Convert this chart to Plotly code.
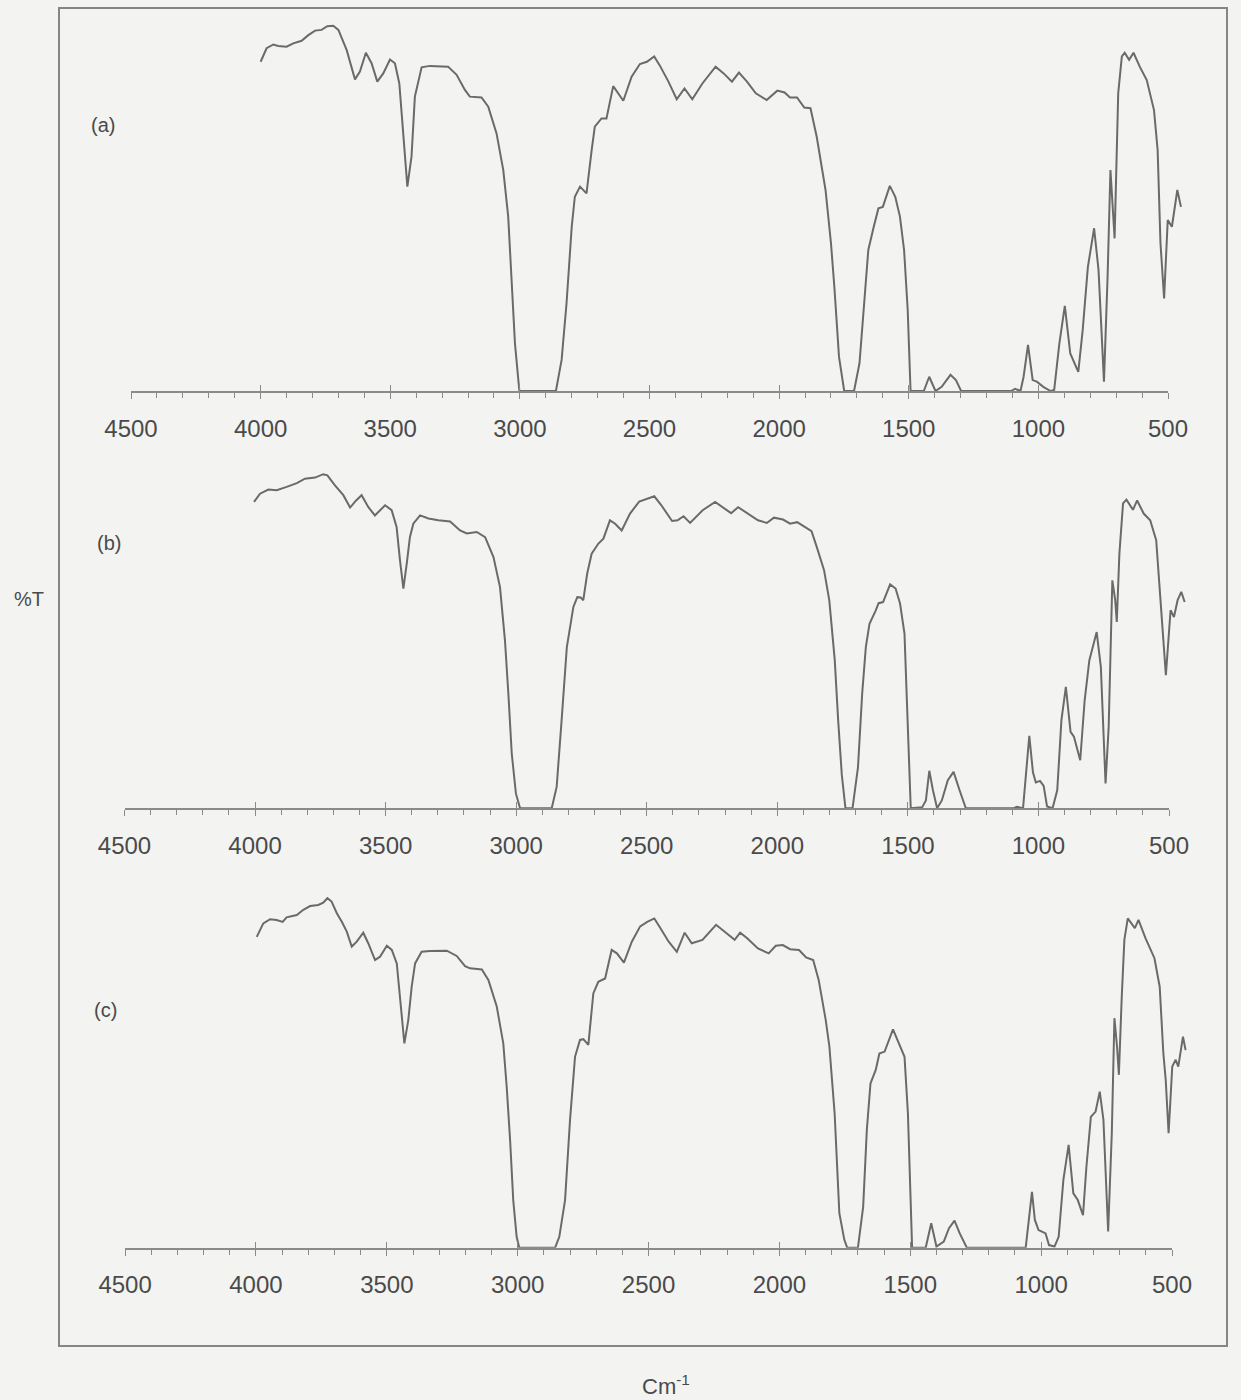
import plotly.graph_objects as go

# ---------------- data (wavenumber cm-1, %T) ----------------
wn_a = [4000, 3977, 3951, 3932, 3900, 3874, 3842, 3816, 3790, 3765, 3743, 3720, 3700, 3668,
        3636, 3617, 3594, 3572, 3550, 3527, 3501, 3482, 3465, 3450, 3434, 3418, 3405, 3379,
        3347, 3277, 3244, 3212, 3193, 3148, 3122, 3090, 3064, 3045, 3032, 3019, 3002, 2861,
        2839, 2820, 2800, 2788, 2768, 2743, 2723, 2711, 2685, 2666, 2640, 2601, 2569, 2537,
        2510, 2482, 2461, 2427, 2395, 2365, 2335, 2296, 2245, 2214, 2182, 2155, 2124, 2090,
        2048, 2007, 1979, 1958, 1931, 1903, 1879, 1855, 1821, 1800, 1787, 1769, 1749, 1711,
        1690, 1672, 1656, 1635, 1617, 1600, 1573, 1552, 1534, 1518, 1504, 1493, 1442, 1421,
        1397, 1373, 1339, 1318, 1298, 1105, 1090, 1069, 1057, 1040, 1022, 1006, 981, 953,
        939, 919, 898, 877, 846, 829, 809, 785, 768, 747, 733, 722, 713, 706, 692, 678, 667,
        650, 633, 609, 582, 554, 540, 529, 515, 501, 485, 464, 450]
t_a = [87.8, 91.4, 92.4, 92.0, 91.8, 92.7, 93.4, 94.9, 96.1, 96.3, 97.3, 97.4, 96.3, 90.9,
       83.1, 85.2, 90.2, 87.4, 82.5, 84.7, 88.4, 87.4, 82.0, 67.8, 54.5, 62.5, 78.5, 86.3,
       86.7, 86.5, 84.3, 80.3, 78.5, 78.3, 75.8, 68.7, 58.9, 46.5, 30.5, 12.7, 0.0, 0.0,
       8.3, 23.4, 43.8, 51.8, 54.5, 52.7, 64.3, 70.5, 72.7, 72.7, 81.3, 77.4, 83.8, 87.2,
       87.8, 89.2, 86.9, 82.5, 77.8, 80.7, 77.8, 82.0, 86.5, 84.7, 82.5, 84.9, 82.5, 79.4,
       77.6, 80.1, 79.6, 78.3, 78.3, 75.6, 75.4, 67.8, 53.6, 39.4, 27.8, 9.1, 0.0, 0.0,
       7.4, 23.4, 37.6, 43.8, 48.7, 49.1, 54.7, 51.8, 46.5, 37.6, 21.6, 0.0, 0.0, 3.8,
       0.0, 1.1, 4.3, 2.9, 0.0, 0.0, 0.6, 0.0, 3.8, 12.3, 2.9, 2.5, 1.1, 0.0,
       0.3, 12.7, 22.7, 10.0, 5.1, 16.3, 33.1, 43.4, 32.3, 2.5, 30.5, 58.9, 49.1, 40.7, 79.4, 89.2, 90.2,
       88.3, 90.2, 86.5, 82.9, 74.9, 64.3, 39.4, 24.7, 45.6, 43.8, 53.6, 49.1]

wn_b = [4004, 3981, 3949, 3917, 3879, 3840, 3809, 3770, 3739, 3723, 3694, 3662, 3636, 3613,
        3592, 3566, 3541, 3521, 3502, 3477, 3458, 3445, 3432, 3419, 3407, 3394, 3368, 3336,
        3298, 3253, 3215, 3189, 3151, 3119, 3087, 3062, 3043, 3030, 3017, 3001, 2985, 2864,
        2845, 2826, 2806, 2781, 2766, 2753, 2743, 2728, 2711, 2685, 2666, 2641, 2621, 2596,
        2564, 2529, 2499, 2471, 2444, 2403, 2382, 2359, 2334, 2286, 2238, 2204, 2177, 2150,
        2115, 2074, 2040, 2013, 1978, 1951, 1924, 1896, 1869, 1849, 1821, 1801, 1780, 1767,
        1753, 1739, 1712, 1691, 1675, 1661, 1647, 1623, 1612, 1595, 1568, 1547, 1530, 1513,
        1500, 1489, 1445, 1431, 1418, 1404, 1388, 1370, 1347, 1325, 1302, 1278, 1096, 1083,
        1059, 1049, 1035, 1021, 1010, 994, 980, 967, 946, 928, 912, 895, 877, 864, 840, 823,
        805, 777, 761, 743, 731, 717, 706, 700, 690, 676, 663, 638, 622, 597, 572, 549, 536,
        522, 512, 494, 481, 467, 453, 440]
t_b = [81.7, 83.9, 85.0, 84.8, 85.7, 86.7, 87.9, 88.2, 89.1, 88.8, 86.1, 83.5, 80.2, 82.1,
       83.5, 80.3, 78.1, 79.5, 80.8, 79.5, 75.0, 66.1, 58.6, 65.3, 72.3, 75.9, 78.1, 77.3,
       76.8, 76.5, 74.1, 73.3, 73.7, 72.3, 67.0, 59.0, 44.8, 30.6, 14.6, 3.9, 0.0, 0.0,
       5.7, 23.5, 43.0, 53.7, 56.3, 56.2, 55.5, 62.6, 67.9, 70.6, 71.9, 76.8, 75.9, 74.1,
       78.6, 81.8, 82.6, 83.2, 80.8, 76.6, 76.8, 77.9, 76.1, 79.5, 81.7, 79.9, 78.7, 80.3,
       78.6, 76.8, 76.1, 77.5, 77.0, 75.9, 76.3, 75.0, 73.9, 69.7, 63.5, 55.5, 39.5, 23.5,
       8.9, 0.0, 0.0, 11.0, 30.6, 43.0, 49.2, 52.8, 54.7, 55.0, 59.7, 58.6, 54.6, 46.6,
       21.7, 0.0, 0.3, 2.1, 10.0, 4.8, 0.0, 2.1, 7.5, 9.7, 4.8, 0.0, 0.0, 0.4,
       0.0, 8.6, 19.3, 9.6, 6.9, 7.3, 6.0, 0.5, 0.0, 4.8, 23.5, 32.4, 20.4, 19.1, 12.8, 28.8,
       39.5, 47.0, 37.7, 6.6, 21.7, 60.8, 55.5, 49.7, 67.9, 81.3, 82.3, 79.6, 82.1, 78.6, 76.8, 71.5, 59.0,
       43.0, 35.5, 52.8, 51.0, 55.5, 57.7, 55.0]

wn_c = [3997, 3972, 3946, 3921, 3898, 3883, 3844, 3819, 3793, 3762, 3743, 3727, 3711, 3691,
        3672, 3653, 3634, 3615, 3590, 3571, 3545, 3526, 3500, 3481, 3462, 3450, 3433, 3418,
        3405, 3392, 3367, 3335, 3271, 3233, 3201, 3182, 3137, 3112, 3080, 3055, 3042, 3029,
        3017, 3004, 2994, 2857, 2841, 2819, 2800, 2781, 2762, 2749, 2730, 2711, 2692, 2666,
        2641, 2621, 2594, 2564, 2532, 2505, 2478, 2458, 2423, 2392, 2362, 2335, 2294, 2242,
        2205, 2171, 2150, 2123, 2082, 2041, 2014, 1987, 1959, 1925, 1898, 1871, 1850, 1823,
        1809, 1789, 1771, 1752, 1741, 1700, 1680, 1666, 1652, 1632, 1618, 1598, 1566, 1543,
        1522, 1509, 1493, 1441, 1420, 1400, 1372, 1352, 1331, 1311, 1284, 1059, 1045, 1035,
        1024, 1010, 997, 983, 970, 949, 933, 915, 895, 877, 860, 840, 827, 810, 792, 776, 762,
        744, 730, 720, 710, 703, 692, 682, 669, 642, 628, 601, 567, 547, 533, 524, 513, 499,
        486, 476, 458, 448]
t_c = [82.9, 86.5, 87.6, 87.4, 86.9, 88.1, 88.7, 90.1, 91.1, 91.4, 92.0, 93.2, 92.3, 89.2,
       86.9, 84.3, 80.3, 81.6, 84.0, 81.2, 76.7, 77.6, 80.5, 79.4, 75.8, 66.9, 54.5, 60.7,
       69.6, 75.8, 78.9, 79.1, 79.2, 77.8, 75.1, 74.5, 74.2, 71.4, 64.3, 54.5, 42.9, 28.7,
       12.7, 2.9, 0.0, 0.0, 2.9, 12.7, 34.1, 50.9, 55.4, 55.6, 54.1, 67.8, 70.9, 71.8,
       79.4, 78.5, 76.0, 81.6, 85.7, 86.9, 87.8, 85.6, 81.6, 78.9, 84.0, 81.2, 82.1, 86.1,
       84.0, 82.1, 84.0, 82.5, 79.8, 78.5, 80.5, 80.7, 79.6, 79.4, 77.4, 76.7, 71.4, 60.7,
       53.6, 35.8, 9.2, 2.1, 0.0, 0.0, 10.9, 31.4, 43.8, 47.4, 51.8, 52.3, 58.2, 54.5,
       50.9, 35.8, 0.0, 0.0, 6.5, 0.3, 1.6, 5.2, 7.2, 3.8, 0.0, 0.0, 9.2, 14.9,
       7.4, 4.7, 4.3, 3.8, 0.7, 0.3, 2.9, 18.1, 27.4, 14.5, 12.7, 8.7, 21.6, 34.9, 36.3, 41.6, 34.1,
       4.3, 30.5, 61.2, 53.6, 46.1, 66.9, 82.1, 87.8, 85.2, 87.4, 82.5, 77.2, 69.6, 51.8, 44.7, 30.5, 48.3,
       50.1, 48.3, 56.3, 52.7]

panel_labels = ["(a)", "(b)", "(c)"]
tick_vals = [4500, 4000, 3500, 3000, 2500, 2000, 1500, 1000, 500]
tick_text = ["4500", "4000", "3500", "3000", "2500", "2000", "1500", "1000", "500"]
y_title = "%T"
x_title = "Cm<sup>-1</sup>"

# ---------------- layout geometry (pixels of the 1241 x 1400 page) ----------------
W, H = 1241, 1400
FONT = "Liberation Sans, Arial, Helvetica, sans-serif"
LINE = "#6a6a6a"
AXC = "#8a8a8a"
TXT = "#4a4a4a"
BG = "#f3f3f1"

# per panel: left px (4500), right px (500), axis y px, panel-label centre
panels = [
    dict(x=wn_a, y=t_a, l=131.0, r=1168.0, axis=391.0, lab=(103, 125)),
    dict(x=wn_b, y=t_b, l=124.5, r=1169.0, axis=808.3, lab=(109, 543)),
    dict(x=wn_c, y=t_c, l=125.1, r=1172.0, axis=1247.7, lab=(105, 1010)),
]
PANEL_H = 375.0  # pixels for 0..100 %T
EXT = 400        # trace axis runs a bit past 500 so the curve tail shows

fig = go.Figure()
layout = {}
for i, p in enumerate(panels):
    k = 3 * i
    xa, xt, xo = k + 1, k + 2, k + 3
    ya = i + 1
    per100 = (p["r"] - p["l"]) / 40.0
    r_ext = p["r"] + per100 * (500 - EXT) / 100.0
    bottom = 1 - p["axis"] / H
    top = 1 - (p["axis"] - PANEL_H) / H
    xs = lambda n: "x" if n == 1 else f"x{n}"
    ys = "y" if ya == 1 else f"y{ya}"
    xkey = lambda n: "xaxis" if n == 1 else f"xaxis{n}"
    ykey = "yaxis" if ya == 1 else f"yaxis{ya}"

    # spectrum
    fig.add_trace(go.Scatter(x=p["x"], y=p["y"], mode="lines",
                             line=dict(color=LINE, width=2, shape="linear"),
                             xaxis=xs(xa), yaxis=ys, showlegend=False, hoverinfo="skip"))
    # placeholders so the tick axes get drawn
    for n in (xt, xo):
        fig.add_trace(go.Scatter(x=[3000], y=[50], mode="markers", marker=dict(opacity=0),
                                 xaxis=xs(n), yaxis=ys, showlegend=False, hoverinfo="skip"))

    layout[xkey(xa)] = dict(domain=[p["l"] / W, r_ext / W], range=[4500, EXT],
                            visible=False, anchor=ys, automargin=False)
    layout[xkey(xt)] = dict(domain=[p["l"] / W, p["r"] / W], range=[4500, 500], anchor=ys,
                            automargin=False,
                            showline=True, linecolor=AXC, linewidth=1.6, showgrid=False,
                            zeroline=False, tickmode="array", tickvals=tick_vals,
                            ticktext=tick_text, ticks="outside", ticklen=6, tickwidth=1.4,
                            tickcolor=AXC, ticklabelstandoff=9,
                            tickfont=dict(family=FONT, size=24, color=TXT),
                            minor=dict(tickmode="linear", tick0=500, dtick=100,
                                       ticks="outside", ticklen=5, tickwidth=1.2,
                                       tickcolor=AXC, showgrid=False))
    layout[xkey(xo)] = dict(overlaying=xs(xt), range=[4500, 500], anchor=ys,
                            automargin=False,
                            showline=False, showgrid=False, zeroline=False,
                            tickmode="array", tickvals=tick_vals, ticks="inside",
                            ticklen=6, tickwidth=1.4, tickcolor=AXC, showticklabels=False)
    layout[ykey] = dict(domain=[bottom, top], range=[0, 100], visible=False,
                        anchor=xs(xa), fixedrange=True, automargin=False)

    fig.add_annotation(text=panel_labels[i], xref="paper", yref="paper",
                       x=p["lab"][0] / W, y=1 - p["lab"][1] / H, showarrow=False,
                       xanchor="center", yanchor="middle",
                       font=dict(family=FONT, size=20, color=TXT))

fig.update_layout(**layout)

# outer frame
fig.add_shape(type="rect", xref="paper", yref="paper",
              x0=59 / W, x1=1227 / W, y0=1 - 1346 / H, y1=1 - 8 / H,
              line=dict(color="#858585", width=2), fillcolor="rgba(0,0,0,0)", layer="below")

fig.add_annotation(text=y_title, xref="paper", yref="paper", x=29 / W, y=1 - 599 / H,
                   showarrow=False, xanchor="center", yanchor="middle",
                   font=dict(family=FONT, size=20, color=TXT))
fig.add_annotation(text=x_title, xref="paper", yref="paper", x=666 / W, y=1 - 1385 / H,
                   showarrow=False, xanchor="center", yanchor="middle",
                   font=dict(family=FONT, size=22, color=TXT))

fig.update_layout(width=W, height=H, margin=dict(l=0, r=0, t=0, b=0, pad=0, autoexpand=False),
                  paper_bgcolor=BG, plot_bgcolor="rgba(0,0,0,0)", showlegend=False)

fig.write_html("out.html", config={"displayModeBar": False})
